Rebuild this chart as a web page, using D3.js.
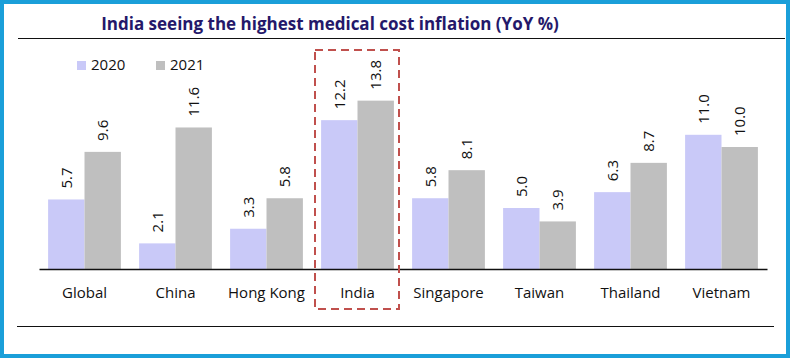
<!DOCTYPE html>
<html><head><meta charset="utf-8">
<script src="https://cdn.jsdelivr.net/npm/d3@7"></script>
<style>html,body{margin:0;padding:0;background:#fff;}svg{display:block;}</style>
</head><body>
<script>
const categories = ["Global","China","Hong Kong","India","Singapore","Taiwan","Thailand","Vietnam"];
const seriesNames = ["2020","2021"];
const values2020 = [5.7,2.1,3.3,12.2,5.8,5.0,6.3,11.0];
const values2021 = [9.6,11.6,5.8,13.8,8.1,3.9,8.7,10.0];
const title = "India seeing the highest medical cost inflation (YoY %)";
const highlight = "India";

const W = 790, H = 358;
const colors = {"2020":"#c9c9f8","2021":"#bfbfbf"};
const font = "'Open Sans', sans-serif";

const svg = d3.select("body").append("svg").attr("width",W).attr("height",H);
svg.append("rect").attr("x",2).attr("y",2).attr("width",W-4).attr("height",H-4)
  .attr("fill","#fff").attr("stroke","#1a9fd9").attr("stroke-width",4);

svg.append("text").attr("x",330).attr("y",29.5).attr("text-anchor","middle")
  .attr("font-family",font).attr("font-weight","bold").attr("font-size",17)
  .attr("fill","#24186a").text(title);
svg.append("line").attr("x1",18).attr("x2",785).attr("y1",38.5).attr("y2",38.5).attr("stroke","#111").attr("stroke-width",1);
svg.append("line").attr("x1",17).attr("x2",774).attr("y1",326.5).attr("y2",326.5).attr("stroke","#111").attr("stroke-width",1);

const x0 = d3.scaleBand().domain(categories).range([39,767]).paddingInner(0.2).paddingOuter(0.1);
const x1 = d3.scaleBand().domain(seriesNames).range([0,x0.bandwidth()]);
const y = d3.scaleLinear().domain([0,16]).range([269,269-16*12.2]);

const data = categories.map((c,i)=>({cat:c, vals:[{s:"2020",v:values2020[i]},{s:"2021",v:values2021[i]}]}));

const g = svg.append("g").selectAll("g").data(data).join("g")
  .attr("transform",d=>`translate(${x0(d.cat)},0)`);
g.selectAll("rect").data(d=>d.vals).join("rect")
  .attr("x",d=>x1(d.s)).attr("width",x1.bandwidth())
  .attr("y",d=>y(d.v)).attr("height",d=>y(0)-y(d.v)).attr("fill",d=>colors[d.s]);
g.selectAll("text").data(d=>d.vals).join("text")
  .attr("transform",d=>`translate(${x1(d.s)+x1.bandwidth()/2+5.5},${y(d.v)-11}) rotate(-90)`)
  .attr("font-family",font).attr("font-size",15).attr("fill","#111")
  .text(d=>d.v.toFixed(1));

const xAxis = svg.append("g").attr("transform","translate(0,269)")
  .call(d3.axisBottom(x0).tickSize(0).tickPadding(18).tickSizeOuter(0));
xAxis.select(".domain").attr("stroke","#111").attr("stroke-width",1.5);
xAxis.selectAll("text").attr("font-family",font).attr("font-size",15).attr("fill","#111");

// highlight dashed box
const hx = x0(highlight);
const gap = x0.step()-x0.bandwidth();
svg.append("rect").attr("x",hx-gap/2+3).attr("y",50)
  .attr("width",x0.step()-7).attr("height",259)
  .attr("fill","none").attr("stroke","#c0504d").attr("stroke-width",2)
  .attr("stroke-dasharray","8,5");

// legend
const leg = svg.append("g").selectAll("g").data(seriesNames).join("g")
  .attr("transform",(d,i)=>`translate(${77+i*79},61)`);
leg.append("rect").attr("width",9).attr("height",9).attr("fill",d=>colors[d]);
leg.append("text").attr("x",14).attr("y",8.5).attr("font-family",font).attr("font-size",15)
  .attr("fill","#111").text(d=>d);
</script>
</body></html>
